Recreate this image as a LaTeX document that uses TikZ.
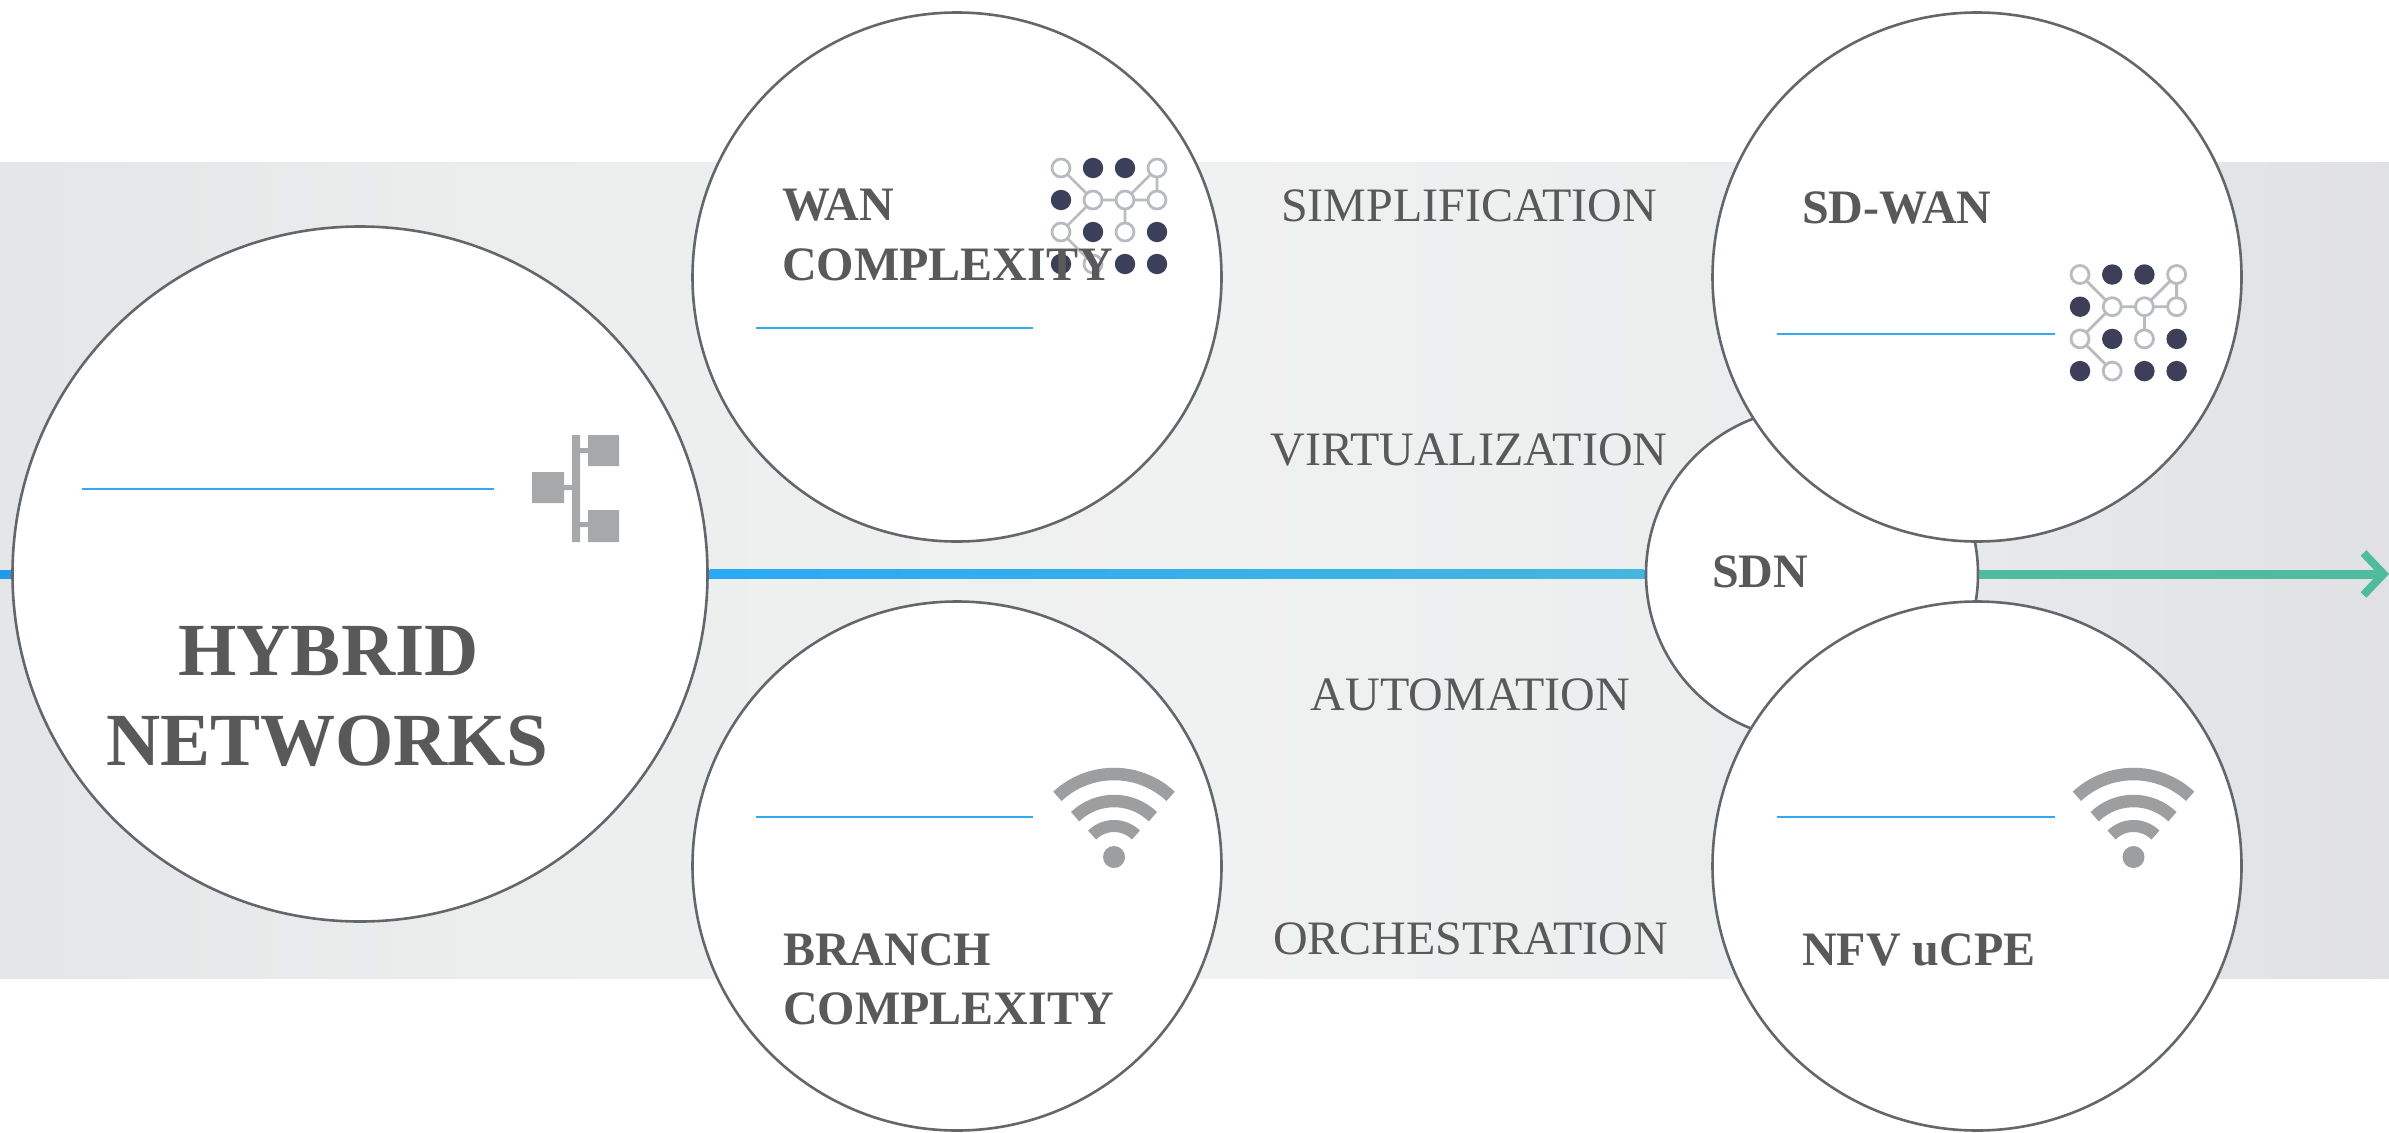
\documentclass[tikz,border=0pt]{standalone}
\usepackage{fontspec}
\setmainfont{Liberation Serif}
\usetikzlibrary{arrows.meta,calc}
\definecolor{txtgray}{HTML}{595959}
\definecolor{ringgray}{HTML}{63666B}
\definecolor{rulecol}{HTML}{35A8F0}
\definecolor{icongray}{HTML}{A6A8AA}
\definecolor{wifigray}{HTML}{9C9EA0}
\definecolor{dotdark}{HTML}{3C3F57}
\definecolor{meshline}{HTML}{B8BBC0}
\definecolor{flowA}{HTML}{1F9BEA}
\definecolor{flowB}{HTML}{2AA9F6}
\definecolor{flowC}{HTML}{45B6DE}
\definecolor{flowD}{HTML}{50BB9E}
\pgfdeclarehorizontalshading{bandshade}{100bp}{
  rgb(0bp)=(0.895,0.900,0.905);
  rgb(25bp)=(0.895,0.900,0.905);
  rgb(35bp)=(0.925,0.930,0.930);
  rgb(50bp)=(0.942,0.945,0.945);
  rgb(62bp)=(0.925,0.930,0.932);
  rgb(75bp)=(0.880,0.883,0.893);
  rgb(100bp)=(0.880,0.883,0.893)}
\tikzset{
  x=1pt,y=-1pt,
  bubble/.style={circle,draw=ringgray,fill=white,line width=2.6pt,inner sep=0pt,minimum size=#1},
  flow/.style={line width=9pt},
  bluerule/.style={draw=rulecol,line width=2.4pt},
  bigtitle/.style={font=\bfseries\fontsize{75}{90}\selectfont,text=txtgray,anchor=base,inner sep=0pt},
  boldlabel/.style={font=\bfseries\fontsize{48}{59}\selectfont,text=txtgray,anchor=base west,inner sep=0pt},
  sidelabel/.style={font=\fontsize{48}{59}\selectfont,text=txtgray,anchor=base,inner sep=0pt},
}
\newcommand{\meshicon}[3]{% x0,y0 of first dot, spacing
  \begin{scope}[shift={(#1,#2)}]
    \draw[meshline,line width=2.8pt]
      (0,0)--(#3,#3)--(2*#3,#3)--(3*#3,#3)--(3*#3,0)--(2*#3,#3)
      (#3,#3)--(0,2*#3)--(#3,3*#3)
      (2*#3,#3)--(2*#3,2*#3);
    \foreach \cx/\cy in {1/0,2/0,0/1,1/2,3/2,0/3,2/3,3/3}
      \fill[dotdark] (\cx*#3,\cy*#3) circle[radius=10.2pt];
    \foreach \cx/\cy in {0/0,3/0,1/1,2/1,3/1,0/2,2/2,1/3}
      \draw[meshline,fill=white,line width=2.8pt] (\cx*#3,\cy*#3) circle[radius=9pt];
  \end{scope}
}
\begin{document}
\begin{tikzpicture}
\useasboundingbox (0,0) rectangle (2389,1132);
\fill[white] (0,0) rectangle (2389,1132);
\shade[shading=bandshade] (0,162) rectangle (2389,978);

% anchors of the flow line
\coordinate (start) at (0,574);
\coordinate (tip) at (2389,574);
\coordinate (hybridpos) at (360,574);
\coordinate (sdnpos) at (1812,574);

% circles that the flow line runs between
\node[bubble=695pt] (hybrid) at (hybridpos) {};
\node[bubble=332pt] (sdn) at (sdnpos) {};

\draw[flow,draw=flowA] (start) -- (hybrid);
\draw[flow,draw=flowB] (hybrid) -- (sdn);
\shade[left color=flowB,right color=flowC] ($(hybrid.east)+(1,-4.5)$) rectangle ($(sdn.west)+(-1,4.5)$);
\draw[flow,draw=flowD,-{Straight Barb[length=20pt,width=42pt,line width=8pt]}] (sdn) -- (tip);

% other circles
\node[bubble=529pt] (wan) at (957,277) {};
\node[bubble=529pt] (branch) at (957,866) {};
\node[bubble=529pt] (sdwan) at (1977,277) {};
\node[bubble=529pt] (nfv) at (1977,866) {};

% rules
\coordinate (r1a) at (82,489);  \coordinate (r1b) at (494,489);
\coordinate (r2a) at (756,328); \coordinate (r2b) at (1033,328);
\coordinate (r3a) at (756,817); \coordinate (r3b) at (1033,817);
\coordinate (r4a) at (1777,334);\coordinate (r4b) at (2055,334);
\coordinate (r5a) at (1777,817);\coordinate (r5b) at (2055,817);
\draw[bluerule] (r1a)--(r1b);
\draw[bluerule] (r2a)--(r2b);
\draw[bluerule] (r3a)--(r3b);
\draw[bluerule] (r4a)--(r4b);
\draw[bluerule] (r5a)--(r5b);

% hierarchy icon
\fill[icongray] (588,435) rectangle (619,466) (588,510) rectangle (619,542)
  (532,472) rectangle (564,503) (572,435) rectangle (580,542)
  (580,448) rectangle (588,453) (564,485) rectangle (572,490) (580,522) rectangle (588,527);

% mesh icons
\meshicon{1061}{168}{32}
\meshicon{2080}{274.5}{32.2}

% wifi icons
\foreach \wx in {1114,2133.5}{
  \coordinate (wc) at (\wx,857);
  \fill[wifigray] (wc) circle[radius=11pt];
  \draw[wifigray,line width=12.5pt] ($(wc)+(47:83pt)$) arc[start angle=47,end angle=133,radius=83pt];
  \draw[wifigray,line width=12.5pt] ($(wc)+(46:56pt)$) arc[start angle=46,end angle=134,radius=56pt];
  \draw[wifigray,line width=12pt] ($(wc)+(45:31pt)$) arc[start angle=45,end angle=135,radius=31pt];
}

% texts
\node[bigtitle] (t1) at (328.5,675) {HYBRID};
\node[bigtitle] (t2) at (327,765) {NETWORKS};
\node[boldlabel] (l1) at (782,220.5) {WAN};
\node[boldlabel] (l2) at (782,280.5) {COMPLEXITY};
\node[boldlabel] (l3) at (783,965) {BRANCH};
\node[boldlabel] (l4) at (783,1024) {COMPLEXITY};
\node[boldlabel] (l5) at (1802,223.5) {SD-WAN};
\node[boldlabel] (l6) at (1802,965.5) {NFV uCPE};
\node[boldlabel] (l7) at (1712,587) {SDN};
\node[sidelabel] (s1) at (1469,221) {SIMPLIFICATION};
\node[sidelabel] (s2) at (1469,465) {VIRTUALIZATION};
\node[sidelabel] (s3) at (1470.5,710) {AUTOMATION};
\node[sidelabel] (s4) at (1470.5,954) {ORCHESTRATION};
\end{tikzpicture}
\end{document}
